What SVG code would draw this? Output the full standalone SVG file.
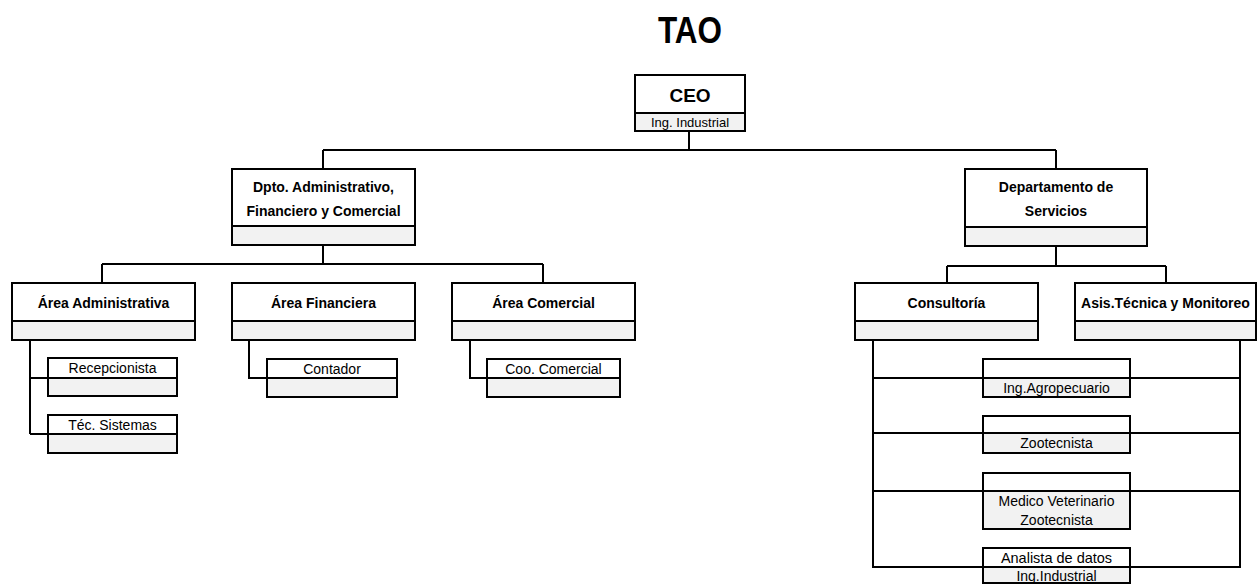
<svg xmlns="http://www.w3.org/2000/svg" width="1257" height="584" viewBox="0 0 1257 584">
<style>
.bx{fill:#ffffff;stroke:#000;stroke-width:2}
.sb{fill:#f2f2f2;stroke:#000;stroke-width:2}
.ln{fill:none;stroke:#000;stroke-width:2}
.t{font-family:"Liberation Sans",Arial,sans-serif;text-anchor:middle;fill:#000}
.h{font-weight:bold;font-size:14px}
.s{font-size:14px}
</style>
<rect width="1257" height="584" fill="#fff"/>
<text class="t" x="690" y="43" font-size="36" font-weight="bold" textLength="64" lengthAdjust="spacingAndGlyphs">TAO</text>
<g id="connectors">
<path class="ln" d="M689,131V150M323,150H1056M323,150V169M1056,150V169"/>
<path class="ln" d="M323,245V264M102,264H543M102,264V283M543,264V283"/>
<path class="ln" d="M30,340V434M30,378H48M30,434H48"/>
<path class="ln" d="M249,340V378H267"/>
<path class="ln" d="M470,340V378H487"/>
<path class="ln" d="M1056,246V266M947,266H1166M947,266V283M1166,266V283"/>
<path class="ln" d="M873,340V567H1240V340M873,378H1240M873,433H1240M873,491H1240"/>
</g>
<g id="ceo">
<rect class="bx" x="635" y="75" width="110" height="56"/>
<rect class="sb" x="635" y="113" width="110" height="18"/>
<text class="t" x="690" y="102" font-size="19" font-weight="bold">CEO</text>
<text class="t" x="690" y="127" font-size="13">Ing. Industrial</text>
</g>
<g id="dpto-adm">
<rect class="bx" x="232" y="169" width="183" height="76"/>
<rect class="sb" x="232" y="226" width="183" height="19"/>
<text class="t h" x="323.5" y="192">Dpto. Administrativo,</text>
<text class="t h" x="323.5" y="216">Financiero y Comercial</text>
</g>
<g id="dpto-serv">
<rect class="bx" x="965" y="169" width="182" height="77"/>
<rect class="sb" x="965" y="227" width="182" height="19"/>
<text class="t h" x="1056" y="192">Departamento de</text>
<text class="t h" x="1056" y="216">Servicios</text>
</g>
<g id="area-adm">
<rect class="bx" x="12" y="283" width="183" height="57"/>
<rect class="sb" x="12" y="321" width="183" height="19"/>
<text class="t h" x="103.5" y="308">Área Administrativa</text>
</g>
<g id="area-fin">
<rect class="bx" x="232" y="283" width="183" height="57"/>
<rect class="sb" x="232" y="321" width="183" height="19"/>
<text class="t h" x="323.5" y="308">Área Financiera</text>
</g>
<g id="area-com">
<rect class="bx" x="452" y="283" width="183" height="57"/>
<rect class="sb" x="452" y="321" width="183" height="19"/>
<text class="t h" x="543.5" y="308">Área Comercial</text>
</g>
<g id="consultoria">
<rect class="bx" x="855" y="283" width="183" height="57"/>
<rect class="sb" x="855" y="321" width="183" height="19"/>
<text class="t h" x="946.5" y="308">Consultoría</text>
</g>
<g id="asistencia">
<rect class="bx" x="1075" y="283" width="181" height="57"/>
<rect class="sb" x="1075" y="321" width="181" height="19"/>
<text class="t h" x="1165.5" y="308">Asis.Técnica y Monitoreo</text>
</g>
<g id="recepcionista">
<rect class="bx" x="48" y="358" width="129" height="38"/>
<rect class="sb" x="48" y="378" width="129" height="18"/>
<text class="t s" x="112.5" y="373">Recepcionista</text>
</g>
<g id="tec-sistemas">
<rect class="bx" x="48" y="415" width="129" height="38"/>
<rect class="sb" x="48" y="434" width="129" height="19"/>
<text class="t s" x="112.5" y="430">Téc. Sistemas</text>
</g>
<g id="contador">
<rect class="bx" x="267" y="359" width="130" height="38"/>
<rect class="sb" x="267" y="378" width="130" height="19"/>
<text class="t s" x="332" y="374">Contador</text>
</g>
<g id="coo-comercial">
<rect class="bx" x="487" y="359" width="133" height="38"/>
<rect class="sb" x="487" y="378" width="133" height="19"/>
<text class="t s" x="553.5" y="374">Coo. Comercial</text>
</g>
<g id="ing-agro">
<rect class="bx" x="983" y="359" width="147" height="38"/>
<rect class="sb" x="983" y="378" width="147" height="19"/>
<text class="t s" x="1056.5" y="393">Ing.Agropecuario</text>
</g>
<g id="zootecnista">
<rect class="bx" x="983" y="416" width="147" height="37"/>
<rect class="sb" x="983" y="433" width="147" height="20"/>
<text class="t s" x="1056.5" y="448">Zootecnista</text>
</g>
<g id="medico-vet">
<rect class="bx" x="983" y="473" width="147" height="56"/>
<rect class="sb" x="983" y="491" width="147" height="38"/>
<text class="t s" x="1056.5" y="506">Medico Veterinario</text>
<text class="t s" x="1056.5" y="525">Zootecnista</text>
</g>
<g id="analista">
<rect class="bx" x="983" y="548" width="147" height="35"/>
<rect class="sb" x="983" y="567" width="147" height="16"/>
<text class="t" x="1056.5" y="563" font-size="14.5">Analista de datos</text>
<text class="t s" x="1056.5" y="581">Ing.Industrial</text>
</g>
<path class="ln" d="M873,567H1240"/>
</svg>
